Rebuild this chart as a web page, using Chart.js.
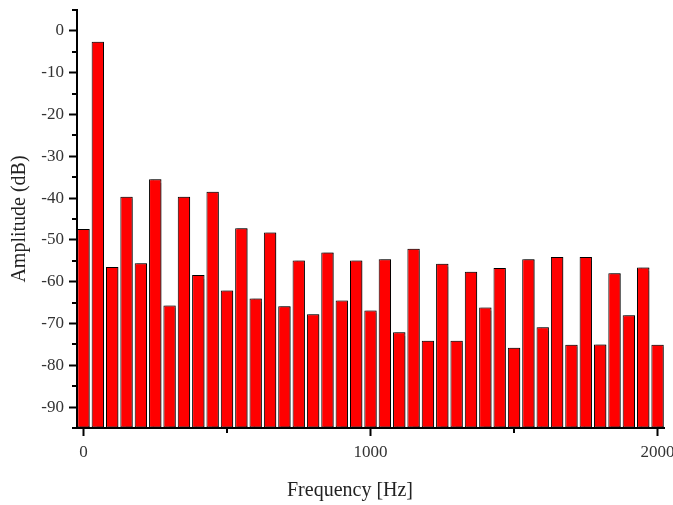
<!DOCTYPE html>
<html>
<head>
<meta charset="utf-8">
<script src="https://cdn.jsdelivr.net/npm/chart.js@4.4.1/dist/chart.umd.min.js"></script>
<style>
  html, body { margin: 0; padding: 0; background: #fff; }
  #wrap { width: 673px; height: 505px; position: relative; }
</style>
</head>
<body>
<div id="wrap"><canvas id="c" width="673" height="505"></canvas></div>
<script>
// ---- data ----
const frequencies = [0, 50, 100, 150, 200, 250, 300, 350, 400, 450, 500, 550, 600, 650, 700,
  750, 800, 850, 900, 950, 1000, 1050, 1100, 1150, 1200, 1250, 1300, 1350, 1400, 1450, 1500,
  1550, 1600, 1650, 1700, 1750, 1800, 1850, 1900, 1950, 2000];
const amplitudes = [-47.4, -2.6, -56.5, -39.7, -55.6, -35.5, -65.7, -39.7, -58.4, -38.5, -62.1,
  -47.2, -64.0, -48.2, -65.9, -54.9, -67.8, -53.0, -64.5, -54.9, -66.9, -54.6, -72.1, -52.1,
  -74.1, -55.7, -74.1, -57.6, -66.2, -56.7, -75.8, -54.6, -70.9, -54.1, -75.1, -54.1, -75.0,
  -58.0, -68.0, -56.6, -75.1];
const xTickValues = [0, 500, 1000, 1500, 2000];
const xTickLabels = ['0', '', '1000', '', '2000'];
const yTickValues = [-95, -90, -85, -80, -75, -70, -65, -60, -55, -50, -45, -40, -35, -30, -25, -20, -15, -10, -5, 0, 5];
const yTickLabels = ['', '-90', '', '-80', '', '-70', '', '-60', '', '-50', '', '-40', '', '-30', '', '-20', '', '-10', '', '0', ''];
const xTitle = 'Frequency [Hz]';
const yTitle = 'Amplitude (dB)';
const yMin = -95, yMax = 5, xMin = -22.5, xMax = 2022.5;

// ---- plugins ----
const barShadow = {
  id: 'barShadow',
  beforeDatasetsDraw(chart) {
    const ctx = chart.ctx;
    ctx.save();
    ctx.shadowColor = 'rgba(0,0,0,0.45)';
    ctx.shadowOffsetX = 2;
    ctx.shadowOffsetY = 0;
    ctx.shadowBlur = 1;
  },
  afterDatasetsDraw(chart) {
    chart.ctx.restore();
  }
};

const minorTicks = {
  id: 'minorTicks',
  afterDraw(chart) {
    const ctx = chart.ctx;
    const xs = chart.scales.x, ys = chart.scales.y;
    ctx.save();
    ctx.strokeStyle = '#000';
    ctx.lineWidth = 2;
    const axisX = chart.chartArea.left;
    const axisY = chart.chartArea.bottom;
    yTickValues.forEach((v, i) => {
      if (yTickLabels[i] !== '') return;
      const p = Math.round(ys.getPixelForValue(v));
      ctx.beginPath();
      ctx.moveTo(axisX - 5, p);
      ctx.lineTo(axisX, p);
      ctx.stroke();
    });
    xTickValues.forEach((v, i) => {
      if (xTickLabels[i] !== '') return;
      const p = Math.round(xs.getPixelForValue(v));
      ctx.beginPath();
      ctx.moveTo(p, axisY);
      ctx.lineTo(p, axisY + 5);
      ctx.stroke();
    });
    // x axis title
    ctx.fillStyle = '#222';
    ctx.font = '20px "Liberation Serif", "Times New Roman", serif';
    ctx.textAlign = 'center';
    ctx.textBaseline = 'middle';
    ctx.fillText(xTitle, 350, 491);
    ctx.restore();
  }
};

const tickFont = { family: '"Liberation Serif", "Times New Roman", serif', size: 17 };

new Chart(document.getElementById('c'), {
  type: 'bar',
  data: {
    datasets: [{
      data: frequencies.map((f, i) => ({ x: f, y: amplitudes[i] })),
      base: yMin,
      backgroundColor: '#ff0000',
      borderColor: '#000000',
      borderWidth: 1,
      borderSkipped: false,
      barPercentage: 0.86,
      categoryPercentage: 1.0
    }]
  },
  options: {
    responsive: false,
    animation: false,
    events: [],
    layout: { padding: { top: 10, right: 9, left: 0, bottom: 0 } },
    plugins: { legend: { display: false }, tooltip: { enabled: false } },
    scales: {
      x: {
        type: 'linear',
        offset: false,
        min: xMin, max: xMax,
        afterBuildTicks(scale) { scale.ticks = xTickValues.map(v => ({ value: v })); },
        afterFit(scale) { scale.height = 77; scale.paddingLeft = 0; scale.paddingRight = 0; },
        ticks: {
          autoSkip: false, maxRotation: 0, padding: 6, color: '#333', font: tickFont,
          callback(value) { const i = xTickValues.indexOf(value); return i >= 0 ? xTickLabels[i] : ''; }
        },
        grid: {
          offset: false,
          drawOnChartArea: false, drawTicks: true, tickLength: 8, tickWidth: 2,
          tickColor: (c) => (c.tick && xTickLabels[xTickValues.indexOf(c.tick.value)] !== '') ? '#000' : 'rgba(0,0,0,0)'
        },
        border: { display: true, color: '#000', width: 2 }
      },
      y: {
        type: 'linear',
        min: yMin, max: yMax,
        afterBuildTicks(scale) { scale.ticks = yTickValues.map(v => ({ value: v })); },
        afterFit(scale) { scale.width = 77; scale.paddingTop = 0; scale.paddingBottom = 0; },
        ticks: {
          autoSkip: false, padding: 5, color: '#333', font: tickFont,
          callback(value) { const i = yTickValues.indexOf(value); return i >= 0 ? yTickLabels[i] : ''; }
        },
        grid: {
          drawOnChartArea: false, drawTicks: true, tickLength: 8, tickWidth: 2,
          tickColor: (c) => (c.tick && yTickLabels[yTickValues.indexOf(c.tick.value)] !== '') ? '#000' : 'rgba(0,0,0,0)'
        },
        border: { display: true, color: '#000', width: 2 },
        title: {
          display: true, text: yTitle, color: '#222',
          font: { family: '"Liberation Serif", "Times New Roman", serif', size: 20 },
          padding: { top: 8, bottom: 0 }
        }
      }
    }
  },
  plugins: [barShadow, minorTicks]
});
</script>
</body>
</html>
